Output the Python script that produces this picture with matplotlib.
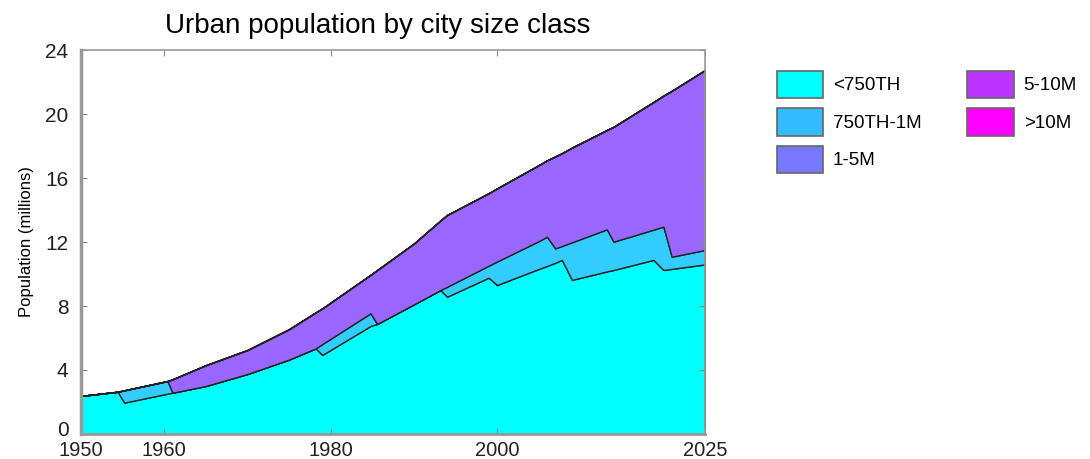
import matplotlib
matplotlib.use("Agg")
import matplotlib.pyplot as plt
import matplotlib.transforms as mtransforms
from matplotlib.patches import Patch

plt.rcParams['font.family'] = ['Liberation Sans', 'DejaVu Sans']

# years incl. the points where a city jumps class
years = [1950, 1954.4, 1955.2, 1960.4, 1961, 1965, 1970, 1975, 1978.2, 1979,
         1984.8, 1985.6, 1990, 1993.2, 1994, 1999, 2000, 2005, 2006, 2007,
         2007.8, 2009, 2013.2, 2014, 2018.8, 2020, 2021, 2025]

# population per class, millions
under_750k = [2.38, 2.64, 1.96, 2.52, 2.58, 3.0, 3.75, 4.65, 5.35, 4.94,
              6.75, 6.88, 8.1, 9.0, 8.58, 9.77, 9.31, 10.31, 10.5, 10.7,
              10.88, 9.63, 10.16, 10.25, 10.88, 10.25, 10.32, 10.6]
k750_1m = [0, 0, 0.77, 0.79, 0, 0, 0, 0, 0, 0.68,
           0.79, 0, 0, 0, 0.62, 0.75, 1.47, 1.74, 1.83, 0.9,
           0.87, 2.35, 2.63, 1.77, 1.89, 2.71, 0.76, 0.9]
m1_5 = [0, 0, 0, 0, 0.84, 1.3, 1.5, 1.9, 2.25, 2.23,
        2.41, 3.37, 3.8, 4.35, 4.49, 4.53, 4.57, 4.75, 4.77, 5.75,
        5.8, 5.92, 6.21, 7.18, 7.98, 8.19, 10.37, 11.25]
m5_10 = [0] * len(years)
over_10m = [0] * len(years)

labels = ['<750TH', '750TH-1M', '1-5M', '5-10M', '>10M']
fill_colors = ['#00FFFF', '#33CCFF', '#9966FF', '#BB33FF', '#FF00FF']
legend_colors = ['#00FFFF', '#33BBFF', '#7777FF', '#BB33FF', '#FF00FF']

fig = plt.figure(figsize=(10.9, 4.59), dpi=100)
ax = fig.add_axes([0.0743, 0.0545, 0.5725, 0.8365])

ax.stackplot(years, under_750k, k750_1m, m1_5, m5_10, over_10m,
             colors=fill_colors, edgecolor='#222222', linewidth=1.0)

ax.set_xlim(1950, 2025)
ax.set_ylim(0, 24)
ax.set_xticks([1950, 1960, 1980, 2000, 2025])
ax.set_yticks(range(0, 25, 4))
ax.tick_params(direction='in', top=True, right=True, length=4,
               colors='#888888', labelcolor='#222222', labelsize=15)
ax.tick_params(axis='x', pad=5, labelsize=14.5)
ax.tick_params(axis='y', pad=9)
for s in ax.spines.values():
    s.set_color('#999999')
    s.set_linewidth(1.2)
ax.spines['left'].set_linewidth(2.5)
ax.spines['bottom'].set_linewidth(2.0)

# lift the "0" a little so it doesn't collide with "1950"
zero_lbl = ax.get_yticklabels()[0]
zero_lbl.set_transform(zero_lbl.get_transform() +
                       mtransforms.ScaledTranslation(0, 5 / 100, fig.dpi_scale_trans))

ax.set_ylabel('Population (millions)', fontsize=12, labelpad=8)
fig.text(378 / 1090, 1 - 26 / 459, 'Urban population by city size class',
         fontsize=20, ha='center', va='center')

handles = [Patch(facecolor=c, edgecolor='#666666', linewidth=1.2)
           for c in legend_colors]
fig.legend(handles, labels, loc='upper left', bbox_to_anchor=(0.697, 0.883),
           ncol=2, frameon=False, fontsize=13.5, handlelength=2.5,
           handleheight=1.9, labelspacing=0.52, handletextpad=0.5,
           columnspacing=2.45)

fig.savefig('out.png', dpi=100)
